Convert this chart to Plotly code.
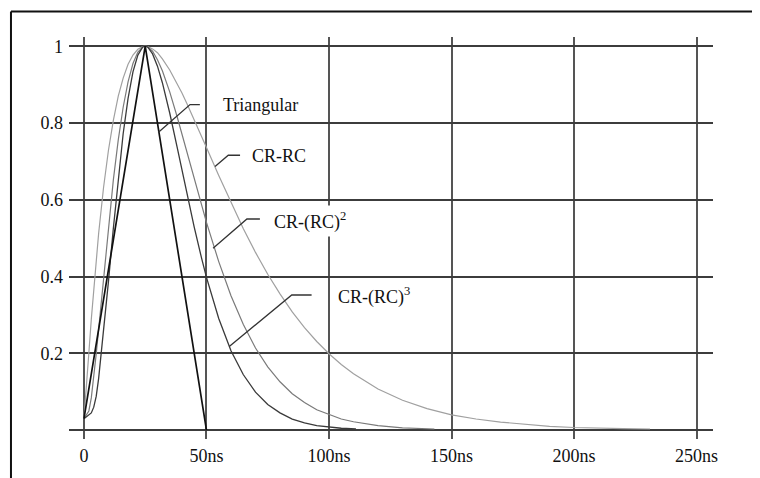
import plotly.graph_objects as go

# ---- data ----
tri_t = [0, 25, 50]
tri_v = [0.03, 1.0, 0.0]

rc1_t = [0, 1, 2, 3, 4, 5, 6, 8, 10, 12, 14, 16, 18, 20, 22, 24, 25, 26, 28, 30, 32, 35, 38, 40, 42, 45,
         48, 50, 55, 60, 65, 70, 75, 80, 85, 90, 95, 100, 105, 110, 120, 130, 140, 150, 160, 170, 180,
         190, 200, 210, 220, 231]
rc1_v = [0.03, 0.105, 0.201, 0.289, 0.371, 0.445, 0.513, 0.632, 0.729, 0.807, 0.870, 0.917, 0.953, 0.977,
         0.992, 0.999, 1.0, 0.999, 0.993, 0.983, 0.967, 0.938, 0.904, 0.878, 0.851, 0.809, 0.765, 0.736,
         0.663, 0.592, 0.525, 0.463, 0.406, 0.355, 0.308, 0.267, 0.231, 0.199, 0.171, 0.147, 0.107, 0.078,
         0.056, 0.040, 0.029, 0.021, 0.015, 0.010, 0.007, 0.005, 0.004, 0.003]

rc2_t = [0, 2, 3, 4, 5, 6, 8, 10, 12, 14, 16, 18, 20, 22, 24, 25, 26, 28, 30, 32, 35, 38, 40, 42, 45, 48,
         50, 55, 60, 65, 70, 75, 80, 85, 90, 95, 100, 105, 110, 120, 130, 143]
rc2_v = [0.03, 0.05, 0.084, 0.137, 0.198, 0.263, 0.399, 0.531, 0.652, 0.756, 0.841, 0.907, 0.955, 0.985, 0.998,
         1.0, 0.998, 0.987, 0.965, 0.936, 0.881, 0.817, 0.771, 0.724, 0.654, 0.585, 0.541, 0.439, 0.350,
         0.276, 0.214, 0.165, 0.126, 0.095, 0.072, 0.053, 0.040, 0.029, 0.022, 0.012, 0.006, 0.003]

rc3_t = [0, 3, 4, 5, 6, 8, 10, 12, 14, 16, 18, 20, 22, 24, 25, 26, 28, 30, 32, 35, 38, 40, 42, 45, 48, 50,
         55, 60, 65, 70, 75, 80, 85, 90, 95, 100, 105, 111]
rc3_v = [0.03, 0.045, 0.06, 0.088, 0.135, 0.252, 0.387, 0.526, 0.657, 0.772, 0.864, 0.933, 0.977, 0.998, 1.0,
         0.998, 0.980, 0.948, 0.905, 0.826, 0.738, 0.677, 0.617, 0.529, 0.448, 0.398, 0.291, 0.207, 0.145,
         0.099, 0.067, 0.045, 0.029, 0.019, 0.012, 0.008, 0.005, 0.003]

x_ticks = [0, 50, 100, 150, 200, 250]
x_labels = ["0", "50ns", "100ns", "150ns", "200ns", "250ns"]
y_ticks = [0.2, 0.4, 0.6, 0.8, 1.0]
y_labels = ["0.2", "0.4", "0.6", "0.8", "1"]

labels = ["Triangular", "CR-RC", "CR-(RC)<sup>2</sup>", "CR-(RC)<sup>3</sup>"]
label_x = [56.0, 67.6, 76.0, 103.0]
label_y = [0.848, 0.713, 0.545, 0.349]
# leader lines: (x0,y0) on curve -> (x1,y1) elbow -> (x2,y1)
lead_x0 = [30.3, 53.5, 52.7, 59.3]
lead_y0 = [0.775, 0.687, 0.474, 0.218]
lead_x1 = [43.3, 58.9, 66.5, 84.8]
lead_y1 = [0.848, 0.716, 0.550, 0.352]
lead_x2 = [47.3, 63.7, 71.8, 92.9]

FONT = "Liberation Serif, Times New Roman, serif"

fig = go.Figure()
fig.add_trace(go.Scatter(x=rc1_t, y=rc1_v, mode="lines", line=dict(color="#a0a0a0", width=1.2), name="CR-RC"))
fig.add_trace(go.Scatter(x=rc2_t, y=rc2_v, mode="lines", line=dict(color="#7a7a7a", width=1.2), name="CR-(RC)2"))
fig.add_trace(go.Scatter(x=rc3_t, y=rc3_v, mode="lines", line=dict(color="#3a3a3a", width=1.3), name="CR-(RC)3"))
fig.add_trace(go.Scatter(x=tri_t, y=tri_v, mode="lines", line=dict(color="#111111", width=1.7), name="Triangular"))

shapes = []
for i in range(len(labels)):
    shapes.append(dict(type="path", xref="x", yref="y",
                       path=f"M {lead_x0[i]},{lead_y0[i]} L {lead_x1[i]},{lead_y1[i]} L {lead_x2[i]},{lead_y1[i]}",
                       line=dict(color="#333333", width=1.3), layer="above"))
# outer frame (top and left edges)
shapes.append(dict(type="line", xref="paper", yref="paper", x0=-0.0901, x1=1.1, y0=1.0633, y1=1.0633,
                   line=dict(color="#111111", width=2)))
shapes.append(dict(type="line", xref="paper", yref="paper", x0=-0.0901, x1=-0.0901, y0=1.0633, y1=-0.1,
                   line=dict(color="#111111", width=2)))

annotations = []
for i, txt in enumerate(labels):
    a = dict(x=label_x[i], y=label_y[i], xref="x", yref="y", text=txt, showarrow=False,
             xanchor="left", yanchor="middle", font=dict(family=FONT, size=18, color="#111111"))
    if i == 2:
        a.update(bgcolor="white", borderpad=3)
    annotations.append(a)

# the page body adds an 8px offset, so the figure is 8px smaller and margins are adjusted
fig.update_layout(
    width=752, height=470,
    margin=dict(l=61, r=47, t=29, b=30),
    paper_bgcolor="white", plot_bgcolor="white",
    showlegend=False,
    shapes=shapes, annotations=annotations,
    font=dict(family=FONT, size=18, color="#111111"),
)
fig.update_xaxes(range=[-6.1, 256.7], tickvals=x_ticks, ticktext=x_labels, showgrid=True,
                 gridcolor="#555555", gridwidth=1.5, zeroline=False, showline=False, ticks="",
                 ticklabelstandoff=4, tickfont=dict(family=FONT, size=18, color="#111111"))
fig.update_yaxes(range=[-0.023, 1.024], tickvals=y_ticks, ticktext=y_labels, showgrid=True,
                 gridcolor="#3c3c3c", gridwidth=2, zeroline=True, zerolinecolor="#3c3c3c",
                 zerolinewidth=2, showline=False, ticks="",
                 ticklabelstandoff=5, tickfont=dict(family=FONT, size=18, color="#111111"))

fig.write_html("out.html")
